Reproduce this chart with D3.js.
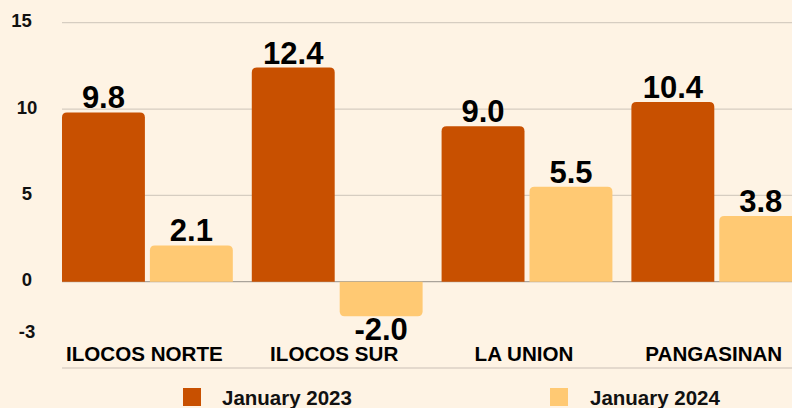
<!DOCTYPE html>
<html>
<head>
<meta charset="utf-8">
<script src="https://cdn.jsdelivr.net/npm/d3@7"></script>
<style>
    body { margin: 0; background: #fef3e4; }
    svg { display: block; font-family: "Liberation Sans", Arial, sans-serif; font-weight: bold; }
</style>
</head>
<body>
<svg id="chart" width="792" height="408"></svg>
<script>
// data
const regions = ["ILOCOS NORTE", "ILOCOS SUR", "LA UNION", "PANGASINAN"];
const seriesNames = ["January 2023", "January 2024"];
const jan2023 = [9.8, 12.4, 9.0, 10.4];
const jan2024 = [2.1, -2.0, 5.5, 3.8];
const gridValues = [15, 10, 5, 0];
const tickLabels = [15, 10, 5, 0, -3];
const colors = ["#c85000", "#ffc973"];

let svg = d3.select("svg#chart");
const width = +svg.attr("width");
const height = +svg.attr("height");
const left = 62;

let rows = regions.map((r, i) => ({ region: r, values: [jan2023[i], jan2024[i]] }));

svg.append("rect")
    .attr("width", width)
    .attr("height", height)
    .attr("fill", "#fef3e4");

// scales
let yScale = d3.scaleLinear().domain([-5, 15]).range([368, 22.7]);
let x0 = d3.scaleBand()
    .domain(regions)
    .range([52.5, 811.7])
    .paddingInner(0.1)
    .paddingOuter(0.05);
let x1 = d3.scaleBand()
    .domain(seriesNames)
    .range([0, x0.bandwidth()])
    .paddingInner(5 / 88);

// gridlines
svg.append("g")
    .selectAll("line")
    .data(gridValues)
    .join("line")
    .attr("x1", left)
    .attr("x2", width)
    .attr("y1", (d) => yScale(d))
    .attr("y2", (d) => yScale(d))
    .attr("stroke", (d) => (d === 0 ? "#aaa39a" : "#d6cdc1"))
    .attr("stroke-width", 1.2);

// bottom line
svg.append("line")
    .attr("x1", left)
    .attr("x2", width)
    .attr("y1", yScale(-5))
    .attr("y2", yScale(-5))
    .attr("stroke", "#c9c0b5")
    .attr("stroke-width", 1.2);

// y tick labels
svg.append("g")
    .selectAll("text")
    .data(tickLabels)
    .join("text")
    .attr("x", (d) => (d === 15 ? 21.5 : 27))
    .attr("y", (d) => yScale(d) + 4.5)
    .attr("text-anchor", "middle")
    .style("font-size", "18.5px")
    .attr("fill", "#111")
    .text((d) => d);

// bar path with rounded ends away from zero
function barPath(x, w, v) {
    let y0 = yScale(0);
    let y1 = yScale(v);
    let r = Math.min(5, Math.abs(y1 - y0));
    let s = v >= 0 ? 1 : -1;
    return `M${x},${y0}` +
        `V${y1 + s * r}` +
        `Q${x},${y1} ${x + r},${y1}` +
        `H${x + w - r}` +
        `Q${x + w},${y1} ${x + w},${y1 + s * r}` +
        `V${y0}Z`;
}

let groups = svg.append("g")
    .selectAll("g")
    .data(rows)
    .join("g")
    .attr("transform", (d) => `translate(${x0(d.region)},0)`);

let cells = groups.selectAll("g")
    .data((d) => d.values.map((v, i) => ({ series: seriesNames[i], value: v, idx: i })))
    .join("g");

cells.append("path")
    .attr("d", (d) => barPath(x1(d.series), x1.bandwidth(), d.value))
    .attr("fill", (d) => colors[d.idx]);

// value labels
cells.append("text")
    .attr("x", (d) => x1(d.series) + x1.bandwidth() / 2)
    .attr("y", (d) => (d.value >= 0 ? yScale(d.value) - 4 : yScale(d.value) + 24))
    .attr("text-anchor", "middle")
    .style("font-size", "31px")
    .attr("fill", "#000")
    .text((d) => d.value.toFixed(1));

// category labels
svg.append("g")
    .selectAll("text")
    .data(regions)
    .join("text")
    .attr("x", (d) => x0(d) + x0.bandwidth() / 2 - 3)
    .attr("y", 361)
    .attr("text-anchor", "middle")
    .style("font-size", "20.6px")
    .attr("fill", "#000")
    .text((d) => d);

// legend
const legendX = [183, 550];
let legend = svg.append("g")
    .selectAll("g")
    .data(seriesNames)
    .join("g")
    .attr("transform", (d, i) => `translate(${legendX[i]},388)`);
legend.append("rect")
    .attr("width", 18)
    .attr("height", 18)
    .attr("fill", (d, i) => colors[i]);
legend.append("text")
    .attr("x", (d, i) => (i === 0 ? 39 : 40))
    .attr("y", 16.5)
    .style("font-size", "20.5px")
    .attr("fill", "#111")
    .text((d) => d);
</script>
</body>
</html>
